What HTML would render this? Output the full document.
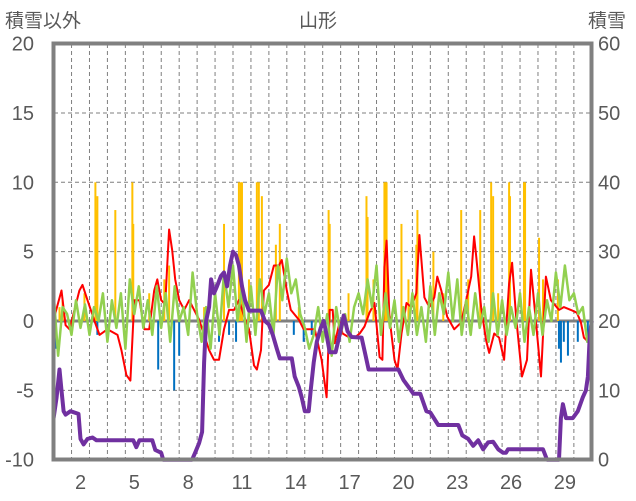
<!DOCTYPE html>
<html><head><meta charset="utf-8">
<style>
html,body{margin:0;padding:0;background:#fff;}
svg{display:block;font-family:"Liberation Sans","Noto Sans CJK JP",sans-serif;}
</style></head>
<body>
<svg id="chart" width="636" height="501" viewBox="0 0 636 501" xmlns="http://www.w3.org/2000/svg">
<g id="grid"></g>
<g id="bars"></g>
<g id="lines"></g>
<g id="frame"></g>
<g id="labels"></g>
</svg>
<script>
const leftTicks=[20,15,10,5,0,-5,-10];
const rightTicks=[60,50,40,30,20,10,0];
const dayLabels=[2,5,8,11,14,17,20,23,26,29];
// snow depth (cm, right axis), time in days
const snowT=[0,0.17,0.33,0.44,0.56,0.67,0.94,1.39,1.5,1.67,1.89,2.17,2.39,4.44,4.61,4.78,5.5,5.67,6,6.11,7.72,7.89,8.11,8.28,8.39,8.5,8.67,8.78,8.94,9.11,9.33,9.5,9.67,9.83,10,10.17,10.33,10.5,10.67,10.89,11.56,11.78,12,12.22,12.44,12.61,13.28,13.44,13.67,13.83,14,14.22,14.33,14.5,14.67,14.89,15.06,15.22,15.39,15.72,15.94,16.17,16.39,16.61,17.17,17.39,17.56,19.22,19.5,19.78,20.06,20.44,20.78,21,21.44,22.56,22.78,23.11,23.39,23.67,23.94,24.22,24.5,24.78,25.06,25.22,25.33,27.28,27.5,28.17,28.28,28.39,28.56,28.94,29.22,29.5,29.67,29.78,29.89,30];
const snowV=[6,9,13,10,7,6.5,7,6.6,3,2.2,3,3.2,2.8,2.8,1.8,2.8,2.8,1.4,1,0,0,1,2.4,4,14,20,22,26,24,25,26.5,27,25,28,30,29.5,28,25,23,21.5,21.5,20,19.5,18,16,14.6,14.6,12,10.5,9,7,7,10,14,17,19,20,18,15.5,15.5,18,20.8,18.5,17.7,17.6,15,13,13,11.5,10.5,9.5,9.5,7,6.8,5,5,3.5,3,2,2.8,1.5,2.5,2.6,1.5,1,1,1.5,1.5,0,0,6,8,6,6,7,9,10,12,18,20];
// temperature (left axis)
const tempT=[0,0.44,0.67,0.89,1.44,1.61,1.89,2.28,2.56,3,3.56,3.78,4.06,4.28,4.5,4.78,5.06,5.33,5.61,5.78,6,6.22,6.44,6.61,6.78,7,7.28,7.56,7.83,8.11,8.39,8.67,8.94,9.22,9.5,9.78,10.06,10.33,10.61,10.89,11.17,11.33,11.56,11.72,12,12.28,12.56,12.72,13,13.22,13.67,13.94,14.22,14.56,14.94,15.22,15.39,15.56,15.67,15.94,16.11,16.5,16.78,17.06,17.33,17.61,17.89,18.17,18.33,18.44,18.56,18.72,19,19.17,19.39,19.67,19.94,20.22,20.39,20.67,20.94,21.22,21.39,21.61,21.94,22.33,22.72,23,23.28,23.44,23.56,23.83,24.11,24.28,24.56,24.83,25.11,25.39,25.56,25.78,26.11,26.39,26.61,26.89,27.17,27.44,27.72,28.17,28.44,28.83,29.17,29.39,29.56,29.72,30];
const tempV=[0.1,2.2,-0.3,-0.6,2.2,2.6,1.5,0,-1,-0.6,-1,-2.1,-3.9,-4.3,1.5,1.5,-0.6,-0.6,2.2,3,1.5,1.2,6.6,5.1,3,1.5,0.8,1.5,0.8,0.1,-1,-2.1,-2.8,-2.8,-0.6,0.8,0.8,1.5,0.4,-0.6,-3.2,-3.5,-2.1,2.2,2.6,4,4,4.4,2.2,0.8,0.1,-0.6,-0.6,-0.6,-2.8,-5.5,0.8,0.8,-1.6,-0.1,-0.9,-1.2,-1.2,-0.9,-0.4,0.6,1.3,-2.6,-2.8,3.9,5.8,0.3,-2.8,-3.5,-0.9,1.3,1,2,6.2,1.7,1,1.7,3.2,2.2,0.3,-0.6,-0.1,1.5,3.2,6.1,4.6,1,-1.4,-2.3,-0.9,-1.2,-2.8,2.7,4.2,0.3,-4,-2.8,3.7,-0.1,-4,3.2,1.5,0.8,1,0.8,0.6,-0.1,-1.2,-1.4,-0.8];
// green series, every 0.25 day
const greenV=[2,-2.5,1,0.5,-1,1.5,-0.5,1.2,-1,1,0,2,-1.5,1.5,-0.5,2,-2,3,0.5,2.5,-0.5,1.5,-1,2.5,-0.5,2,-1.5,2.5,0,1,-1,3.5,0.5,-1.5,1,-2,2,-1,3.5,1,4,0,2.5,-1.5,2.5,-1,3,0.5,2,-1,4,1.5,4.5,2,3,0.5,-0.5,-2,-1,1,-1.5,0.5,-2.5,1,-1,0.5,-1.5,1,2,0.5,3,1,4,-1,2,-0.5,1.5,-1.5,1,-1,2,-1,1,-1.5,2.5,-1,2,0.5,3.5,0,3,-1,1.5,-1,2,-0.5,1,-1.5,2,-1,1.5,-1,1,-0.5,2,-1.5,1,-1,2,-1,1.5,0,3.5,1,4,1.5,2,0.5,1,-1.5,-1];
// precipitation-type bars (left axis)
const barT=[0.33,0.5,1.72,2.33,2.39,2.44,3.44,4.39,4.44,5.33,6.17,6.44,8.39,9.5,10.33,10.44,10.5,10.89,11.33,11.44,11.61,12.39,12.61,13.67,15.33,15.39,16.44,17.44,17.5,17.83,18.44,18.5,18.56,19.39,19.78,20.22,20.28,21.17,21.72,22.72,23.11,23.78,24.39,24.5,24.78,25.39,25.44,26.22,26.28,27.06,27.28,28.11,
0.11,2.44,5.83,6.72,7,8.5,9.22,9.78,10.17,13.39,13.94,14.39,28.17,28.28,28.44,28.67,29.22,29.78];
const barV=[1,1.5,2,10,8,9,8,10,7,2,3,4,1,7,10,10,10,3,10,10,9,5.5,7,1,8,7,2,9,7.5,3,10,10,10,7,3,5.5,8,5,2,8,3,8,10,9,2,10,9,10,10,6,3,3,
-2,-1,-3.5,-5,-2.5,-0.5,-1.5,-1,-1.5,-1,-1.5,-1,-2,-3,-1.5,-2.5,-1.5,-1.5];

const X0=53.6,DX=17.94,Y0=321,PY=13.87;
const xs=t=>X0+t*DX;
const yl=v=>Y0-v*PY;
const yr=v=>yl(v/2-10);
const NS="http://www.w3.org/2000/svg";
function mk(tag,attrs,parent){const e=document.createElementNS(NS,tag);for(const k in attrs)e.setAttribute(k,attrs[k]);parent.appendChild(e);return e;}
const grid=document.getElementById('grid'),bars=document.getElementById('bars'),lines=document.getElementById('lines'),frame=document.getElementById('frame'),labels=document.getElementById('labels');

for(let d=1;d<30;d++){
  const l=mk('line',{x1:xs(d),x2:xs(d),y1:44,y2:459,stroke:'#7f7f7f','stroke-width':1,'stroke-dasharray':'4,3'},grid);
  
  
}
leftTicks.forEach(v=>{
  if(v===20||v===-10||v===0)return;
  const l=mk('line',{x1:54,x2:591,y1:yl(v),y2:yl(v),stroke:'#7f7f7f','stroke-width':1,'stroke-dasharray':'4,3'},grid);
  
  
});
barT.forEach((t,i)=>{
  const v=barV[i];
  const y=v>=0?yl(v):yl(0);
  const r=mk('rect',{x:xs(t)-1,y:y,width:2,height:Math.abs(yl(v)-yl(0)),fill:v>=0?'#FFC000':'#0070C0'},bars);
  
  
});
const zl=mk('line',{x1:54,x2:591,y1:yl(0),y2:yl(0),stroke:'#7f7f7f','stroke-width':3},grid);



function path(ts,vs,yf,color,w,name){
  const d=ts.map((t,i)=>(i?'L':'M')+xs(t).toFixed(1)+','+yf(vs[i]).toFixed(1)).join('');
  const p=mk('path',{d:d,fill:'none',stroke:color,'stroke-width':w,'stroke-linejoin':'round'},lines);
  
  
}
path(tempT,tempV,yl,'#FF0000',2,'temperature-line');
path(greenV.map((v,i)=>i*0.25),greenV,yl,'#92D050',2.5,'green-series-line');
path(snowT,snowV,yr,'#7030A0',4,'snow-depth-line');

const fr=mk('rect',{x:53.5,y:43.5,width:538,height:416,fill:'none',stroke:'#808080','stroke-width':4},frame);



leftTicks.forEach(v=>{
  const t=mk('text',{x:34,y:yl(v)+7,'text-anchor':'end','font-size':20,fill:'#595959'},labels);
  t.textContent=v;
  
  
});
rightTicks.forEach(v=>{
  const t=mk('text',{x:598,y:yr(v)+7,'font-size':20,fill:'#595959'},labels);
  t.textContent=v;
  
  
});
dayLabels.forEach(d=>{
  const t=mk('text',{x:xs(d-0.5),y:489,'text-anchor':'middle','font-size':20,fill:'#595959'},labels);
  t.textContent=d;
  
  
});
[['積雪以外',5,'start','left-axis-title'],['山形',318,'middle','chart-title'],['積雪',588,'start','right-axis-title']].forEach(a=>{
  const t=mk('text',{x:a[1],y:27,'text-anchor':a[2],'font-size':19,fill:'#595959'},labels);
  t.textContent=a[0];
  
  
});
</script>
</body></html>
